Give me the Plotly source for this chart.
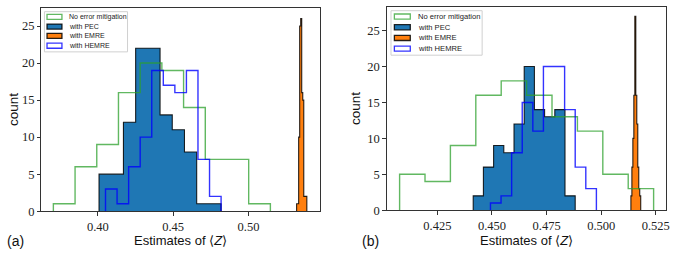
import numpy as np
import plotly.graph_objects as go

W, H = 681, 261

# ---------------- data: panel (a) ----------------
a_noem_start, a_noem_width = 0.3705, 0.0144
a_noem_counts = [1, 6, 9, 16, 20, 19, 14, 7, 7, 1]
a_pec_start, a_pec_width = 0.4008, 0.0081
a_pec_counts = [5, 5, 12, 22, 22, 13, 11, 8, 1, 1]
a_emre_start, a_emre_width = 0.5319, 0.00068
a_emre_counts = [1, 1, 10, 25, 26, 16, 15, 2, 2, 2]
a_hemre_start, a_hemre_width = 0.4051, 0.00767
a_hemre_counts = [3, 1, 6, 10, 19, 17, 16, 19, 7, 2]
a_xticks = [0.40, 0.45, 0.50]
a_xticklabels = ["0.40", "0.45", "0.50"]

# ---------------- data: panel (b) ----------------
b_noem_start, b_noem_width = 0.4077, 0.01163
b_noem_counts = [5, 4, 9, 16, 18, 16, 13, 11, 5, 3]
b_pec_start, b_pec_width = 0.4414, 0.00467
b_pec_counts = [2, 6, 9, 8, 12, 20, 14, 13, 14, 2]
b_emre_start, b_emre_width = 0.5136, 0.00045
b_emre_counts = [2, 6, 10, 16, 27, 16, 12, 6, 3, 2]
b_hemre_start, b_hemre_width = 0.4493, 0.00485
b_hemre_counts = [1, 2, 8, 15, 11, 20, 20, 14, 6, 3]
b_xticks = [0.425, 0.450, 0.475, 0.500, 0.525]
b_xticklabels = ["0.425", "0.450", "0.475", "0.500", "0.525"]

y_ticks = [0, 5, 10, 15, 20, 25]
legend_labels = ["No error mitigation", "with PEC", "with EMRE", "with HEMRE"]

GREEN = "rgba(44,160,44,0.75)"
PEC_FILL = "#1f77b4"
EMRE_FILL = "#ff7f0e"
HEMRE_LINE = "rgba(0,0,255,0.8)"
EDGE = "rgba(0,0,0,0.85)"


def step_xy(start, width, counts):
    edges = start + width * np.arange(len(counts) + 1)
    xs, ys = [edges[0]], [0]
    for i, c in enumerate(counts):
        xs += [edges[i], edges[i + 1]]
        ys += [c, c]
    xs.append(edges[-1])
    ys.append(0)
    return xs, ys


def px2x(p):
    return p / W


def px2y(p):
    return 1 - p / H


fig = go.Figure()


def add_panel(xa, ya, noem, pec, emre, hemre):
    x, y = step_xy(*pec)
    fig.add_trace(go.Scatter(x=x, y=y, mode="lines", fill="toself", fillcolor=PEC_FILL,
                             line=dict(color=EDGE, width=1.1), xaxis=xa, yaxis=ya,
                             showlegend=False, hoverinfo="skip"))
    x, y = step_xy(*emre)
    fig.add_trace(go.Scatter(x=x, y=y, mode="lines", fill="toself", fillcolor=EMRE_FILL,
                             line=dict(color=EDGE, width=1.1), xaxis=xa, yaxis=ya,
                             showlegend=False, hoverinfo="skip"))
    x, y = step_xy(*noem)
    fig.add_trace(go.Scatter(x=x, y=y, mode="lines", line=dict(color=GREEN, width=1.4),
                             xaxis=xa, yaxis=ya, showlegend=False, hoverinfo="skip"))
    x, y = step_xy(*hemre)
    fig.add_trace(go.Scatter(x=x, y=y, mode="lines", line=dict(color=HEMRE_LINE, width=1.4),
                             xaxis=xa, yaxis=ya, showlegend=False, hoverinfo="skip"))


add_panel("x", "y",
          (a_noem_start, a_noem_width, a_noem_counts),
          (a_pec_start, a_pec_width, a_pec_counts),
          (a_emre_start, a_emre_width, a_emre_counts),
          (a_hemre_start, a_hemre_width, a_hemre_counts))
add_panel("x2", "y2",
          (b_noem_start, b_noem_width, b_noem_counts),
          (b_pec_start, b_pec_width, b_pec_counts),
          (b_emre_start, b_emre_width, b_emre_counts),
          (b_hemre_start, b_hemre_width, b_hemre_counts))

tickfont = dict(family="Liberation Serif", size=12.5, color="#222")
axcommon = dict(showgrid=False, zeroline=False, showline=True, linecolor="#333", linewidth=1,
                mirror=True, ticks="outside", ticklen=3.5, tickcolor="#333", tickwidth=1,
                tickfont=tickfont)

fig.update_layout(
    width=W, height=H, margin=dict(l=0, r=0, t=0, b=0),
    paper_bgcolor="white", plot_bgcolor="white", showlegend=False,
    xaxis=dict(domain=[px2x(41.7), px2x(321.7)], range=[0.3626, 0.5473], anchor="y",
               tickvals=a_xticks, ticktext=a_xticklabels, **axcommon),
    yaxis=dict(domain=[px2y(217), px2y(8.3)], range=[0, 27.42], anchor="x",
               tickvals=y_ticks, ticktext=[str(v) for v in y_ticks], **axcommon),
    xaxis2=dict(domain=[px2x(389), px2x(670)], range=[0.4018, 0.5297], anchor="y2",
                tickvals=b_xticks, ticktext=b_xticklabels, **axcommon),
    yaxis2=dict(domain=[px2y(216), px2y(6.7)], range=[0, 28.35], anchor="x2",
                tickvals=y_ticks, ticktext=[str(v) for v in y_ticks], **axcommon),
)

sans = "Liberation Sans"
annots = []
shapes = []
# axis titles and panel labels
for cx, cy, tag_x, tag in [(181.7, 247.5, 16, "(a)"), (529.5, 247, 373, "(b)")]:
    annots.append(dict(x=px2x(cx), y=px2y(cy), xref="paper", yref="paper",
                       text="Estimates of ⟨<i>Z</i>⟩", showarrow=False,
                       font=dict(family=sans, size=13, color="#111"),
                       xanchor="center", yanchor="middle"))
    annots.append(dict(x=px2x(tag_x), y=px2y(248), xref="paper", yref="paper",
                       text=tag, showarrow=False,
                       font=dict(family=sans, size=14, color="#111"),
                       xanchor="center", yanchor="middle"))
annots.append(dict(x=px2x(13.5), y=px2y(112.5), xref="paper", yref="paper", text="count",
                   textangle=-90, showarrow=False, font=dict(family=sans, size=13.5, color="#111"),
                   xanchor="center", yanchor="middle"))
annots.append(dict(x=px2x(357), y=px2y(111), xref="paper", yref="paper", text="count",
                   textangle=-90, showarrow=False, font=dict(family=sans, size=13.5, color="#111"),
                   xanchor="center", yanchor="middle"))

# manual legends
patch_styles = [
    dict(fill="white", line=GREEN),
    dict(fill=PEC_FILL, line=EDGE),
    dict(fill=EMRE_FILL, line=EDGE),
    dict(fill="white", line=HEMRE_LINE),
]
legends = [
    dict(box=(44.7, 12, 128.3, 53.3), px0=47.3, px1=62.3, rows=[17.3, 27.3, 36.9, 47], tx=67.0, fs=7),
    dict(box=(393.3, 11, 485, 56.7), px0=396.7, px1=412.7, rows=[17, 28, 39, 50], tx=418.5, fs=7.6),
]
for lg in legends:
    x0, y0, x1, y1 = lg["box"]
    shapes.append(dict(type="rect", xref="paper", yref="paper", x0=px2x(x0), x1=px2x(x1),
                       y0=px2y(y1), y1=px2y(y0), line=dict(color="#d0d0d0", width=1),
                       fillcolor="rgba(255,255,255,0.85)", layer="above"))
    for lab, st, ry in zip(legend_labels, patch_styles, lg["rows"]):
        shapes.append(dict(type="rect", xref="paper", yref="paper",
                           x0=px2x(lg["px0"]), x1=px2x(lg["px1"]),
                           y0=px2y(ry + 2.6), y1=px2y(ry - 2.6),
                           line=dict(color=st["line"], width=1.3), fillcolor=st["fill"],
                           layer="above"))
        annots.append(dict(x=px2x(lg["tx"]), y=px2y(ry), xref="paper", yref="paper",
                           text=lab, showarrow=False, xanchor="left", yanchor="middle",
                           font=dict(family=sans, size=lg["fs"], color="#222")))

fig.update_layout(annotations=annots, shapes=shapes)
fig.write_html("out.html", config={"displayModeBar": False},
               post_script="document.body.style.margin='0';document.body.style.overflow='hidden';")
